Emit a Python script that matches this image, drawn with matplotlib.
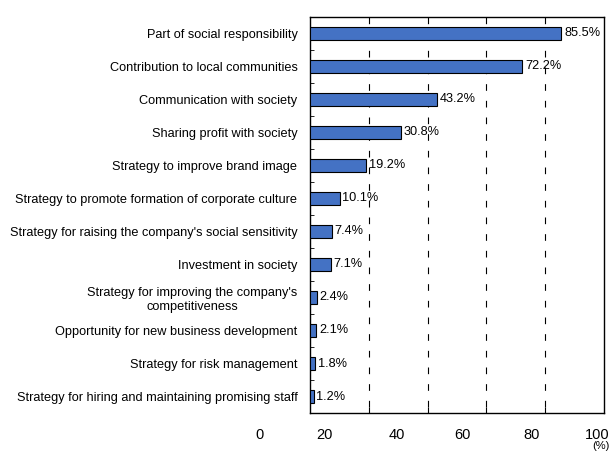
import matplotlib.pyplot as plt

plt.rcParams['font.family'] = ['Liberation Sans', 'DejaVu Sans']

# Survey answers, top to bottom
categories = [
    'Part of social responsibility',
    'Contribution to local communities',
    'Communication with society',
    'Sharing profit with society',
    'Strategy to improve brand image',
    'Strategy to promote formation of corporate culture',
    "Strategy for raising the company's social sensitivity",
    'Investment in society',
    "Strategy for improving the company's\ncompetitiveness",
    'Opportunity for new business development',
    'Strategy for risk management',
    'Strategy for hiring and maintaining promising staff',
]
shares = [85.5, 72.2, 43.2, 30.8, 19.2, 10.1, 7.4, 7.1, 2.4, 2.1, 1.8, 1.2]

grid_values = [20, 40, 60, 80]
tick_texts = ['0', '20', '40', '60', '80', '100']
tick_text_pos = [-17.3, 4.9, 29.4, 51.7, 75.2, 97.8]

fig = plt.figure(figsize=(6.09, 4.54), dpi=100)
ax = fig.add_axes([0.509, 0.0903, 0.483, 0.8723])

rows = list(range(len(categories)))
ax.barh(rows, shares, height=0.42, color='#4472C4', edgecolor='black',
        linewidth=0.8, zorder=3)

for r, v in zip(rows, shares):
    ax.annotate(f'{v}%', (v, r), xytext=(2, 0), textcoords='offset points',
                ha='left', va='center', fontsize=9.2, zorder=4)

# dashed guide lines, drawn top to bottom
ax.vlines(grid_values, -0.5, len(categories) - 0.5, colors='black',
          linestyles=(0, (6, 9)), linewidth=0.8, zorder=1)

ax.set_xlim(0, 100)
ax.set_ylim(len(categories) - 0.5, -0.5)

ax.set_yticks(rows)
ax.set_yticklabels(categories, fontsize=9.2)
for lbl in ax.get_yticklabels():
    lbl.set_multialignment('center')
ax.tick_params(axis='y', length=0, pad=9)
ax.set_yticks([r + 0.5 for r in rows[:-1]], minor=True)
ax.tick_params(axis='y', which='minor', direction='in', length=3, width=0.6)

ax.set_xticks(grid_values)
ax.set_xticklabels([])
ax.tick_params(axis='x', direction='in', length=4, width=0.8)

for t, x in zip(tick_texts, tick_text_pos):
    ax.text(x, -0.055, t, transform=ax.get_xaxis_transform(),
            ha='center', va='center', fontsize=10.5)
ax.text(96.0, -0.084, '(%)', transform=ax.get_xaxis_transform(),
        ha='left', va='center', fontsize=8)

for s in ax.spines.values():
    s.set_linewidth(1.0)
    s.set_color('black')

fig.savefig('out.png', dpi=100)
